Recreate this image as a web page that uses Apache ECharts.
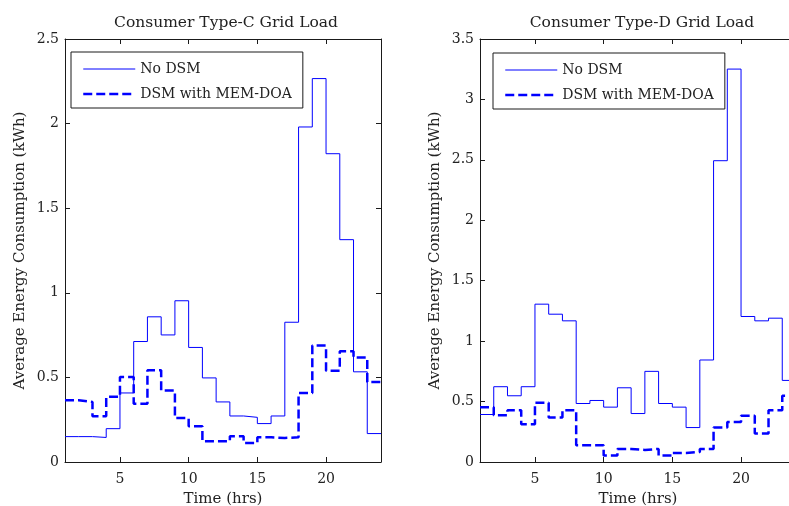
<!DOCTYPE html>
<html>
<head>
<meta charset="utf-8">
<title>Consumer Grid Load</title>
<script src="https://cdn.jsdelivr.net/npm/echarts@6/dist/echarts.min.js"></script>
<style>
  html, body { margin: 0; padding: 0; background: #fff; }
  #chart { width: 789px; height: 506px; }
</style>
</head>
<body>
<div id="chart"></div>
<script>
// 时间（小时）
const hours = [1, 2, 3, 4, 5, 6, 7, 8, 9, 10, 11, 12, 13, 14, 15, 16, 17, 18, 19, 20, 21, 22, 23, 24];
const xTickValues = [5, 10, 15, 20];

// Type-C 用户
const typeCNoDsm = [0.15, 0.15, 0.145, 0.197, 0.408, 0.712, 0.858, 0.751, 0.953, 0.677, 0.497, 0.355,
  0.272, 0.264, 0.227, 0.272, 0.826, 1.98, 2.266, 1.822, 1.314, 0.533, 0.168, 0.168];
const typeCDsm = [0.365, 0.355, 0.27, 0.385, 0.503, 0.345, 0.542, 0.422, 0.26, 0.211, 0.122, 0.122,
  0.152, 0.112, 0.146, 0.142, 0.146, 0.408, 0.688, 0.54, 0.655, 0.617, 0.473, 0.473];

// Type-D 用户
const typeDNoDsm = [0.393, 0.623, 0.548, 0.623, 1.306, 1.223, 1.168, 0.484, 0.509, 0.454, 0.614, 0.401,
  0.75, 0.484, 0.454, 0.285, 0.844, 2.493, 3.251, 1.204, 1.168, 1.19, 0.675, 0.675];
const typeDDsm = [0.454, 0.387, 0.429, 0.313, 0.49, 0.368, 0.429, 0.138, 0.138, 0.053, 0.108, 0.1,
  0.108, 0.053, 0.075, 0.083, 0.108, 0.285, 0.332, 0.382, 0.235, 0.429, 0.548, 0.548];

const seriesNames = ['No DSM', 'DSM with MEM-DOA'];
const titles = ['Consumer Type-C Grid Load', 'Consumer Type-D Grid Load'];

const FONT = 'DejaVu Serif';
const BLUE = '#0000ff';
const AXIS_COLOR = '#1a1a1a';
const SOLID_STYLE = { color: BLUE, width: 1 };
const DASH_STYLE = { color: BLUE, width: 2.5, type: [9, 4] };

const chart = echarts.init(document.getElementById('chart'), null, { renderer: 'canvas' });

/**
 * 把数值数组与小时拼成 [x, y]
 */
function toPoints(values) {
  return hours.map((h, i) => [h, values[i]]);
}

/**
 * 生成一个子图的坐标轴（底/顶 x 轴，左/右 y 轴）
 */
function buildAxes(gridIndex, yMax) {
  const tickStyle = { show: true, inside: true, length: 5, lineStyle: { color: AXIS_COLOR } };
  const lineStyle = { show: true, onZero: false, lineStyle: { color: AXIS_COLOR, width: 1 } };
  const labelStyle = { color: '#222', fontFamily: FONT, fontSize: 14 };

  const xAxes = [
    {
      gridIndex, type: 'value', min: 1, max: 24, position: 'bottom',
      axisLine: lineStyle,
      axisTick: Object.assign({}, tickStyle, { customValues: xTickValues }),
      axisLabel: Object.assign({}, labelStyle, { margin: 10, customValues: xTickValues }),
      splitLine: { show: false },
      name: 'Time (hrs)', nameLocation: 'middle', nameGap: 30,
      nameTextStyle: { color: '#222', fontFamily: FONT, fontSize: 15 }
    },
    {
      gridIndex, type: 'value', min: 1, max: 24, position: 'top',
      axisLine: lineStyle,
      axisTick: Object.assign({}, tickStyle, { customValues: xTickValues }),
      axisLabel: { show: false },
      splitLine: { show: false }
    }
  ];

  const yAxes = [
    {
      gridIndex, type: 'value', min: 0, max: yMax, interval: 0.5, position: 'left',
      axisLine: lineStyle,
      axisTick: tickStyle,
      axisLabel: Object.assign({}, labelStyle, { margin: 6 }),
      splitLine: { show: false },
      name: 'Average Energy Consumption (kWh)', nameLocation: 'middle', nameGap: 37,
      nameTextStyle: { color: '#222', fontFamily: FONT, fontSize: 15 }
    },
    {
      gridIndex, type: 'value', min: 0, max: yMax, interval: 0.5, position: 'right',
      axisLine: lineStyle,
      axisTick: tickStyle,
      axisLabel: { show: false },
      splitLine: { show: false }
    }
  ];

  return { xAxes, yAxes };
}

/**
 * 生成一个子图的两条阶梯线
 */
function buildSeries(axisIndex, noDsm, dsm) {
  return [
    {
      name: seriesNames[0], type: 'line', step: 'end', symbol: 'none',
      xAxisIndex: axisIndex, yAxisIndex: axisIndex,
      data: toPoints(noDsm),
      lineStyle: SOLID_STYLE,
      itemStyle: { color: BLUE }
    },
    {
      name: seriesNames[1], type: 'line', step: 'end', symbol: 'none',
      xAxisIndex: axisIndex, yAxisIndex: axisIndex,
      data: toPoints(dsm),
      lineStyle: DASH_STYLE,
      itemStyle: { color: BLUE }
    }
  ];
}

/**
 * 图例（带黑色边框，图标只画线不画点）
 */
function buildLegend(left, top) {
  return {
    data: [
      { name: seriesNames[0], lineStyle: SOLID_STYLE },
      { name: seriesNames[1], lineStyle: DASH_STYLE }
    ],
    orient: 'vertical',
    left, top,
    itemWidth: 52,
    itemHeight: 14,
    itemGap: 11,
    padding: [10, 11, 7, 11],
    borderColor: AXIS_COLOR,
    borderWidth: 1,
    backgroundColor: '#fff',
    selectedMode: false,
    itemStyle: { opacity: 0 },
    textStyle: { color: '#222', fontFamily: FONT, fontSize: 14 }
  };
}

const axesC = buildAxes(0, 2.5);
const axesD = buildAxes(1, 3.5);

const titleStyle = { color: '#222', fontFamily: FONT, fontSize: 15.5, fontWeight: 'normal' };

const option = {
  backgroundColor: '#fff',
  animation: false,
  title: [
    { text: titles[0], left: 221, top: 10, textAlign: 'center', textStyle: titleStyle },
    { text: titles[1], left: 637, top: 10, textAlign: 'center', textStyle: titleStyle }
  ],
  grid: [
    { left: 65, top: 39, width: 316, height: 423, outerBoundsMode: 'none' },
    { left: 480, top: 39, width: 316, height: 423, outerBoundsMode: 'none' }
  ],
  legend: [buildLegend(71, 52), buildLegend(493, 53)],
  xAxis: axesC.xAxes.concat(axesD.xAxes),
  yAxis: axesC.yAxes.concat(axesD.yAxes),
  series: buildSeries(0, typeCNoDsm, typeCDsm).concat(buildSeries(2, typeDNoDsm, typeDDsm))
};

chart.setOption(option);
</script>
</body>
</html>
